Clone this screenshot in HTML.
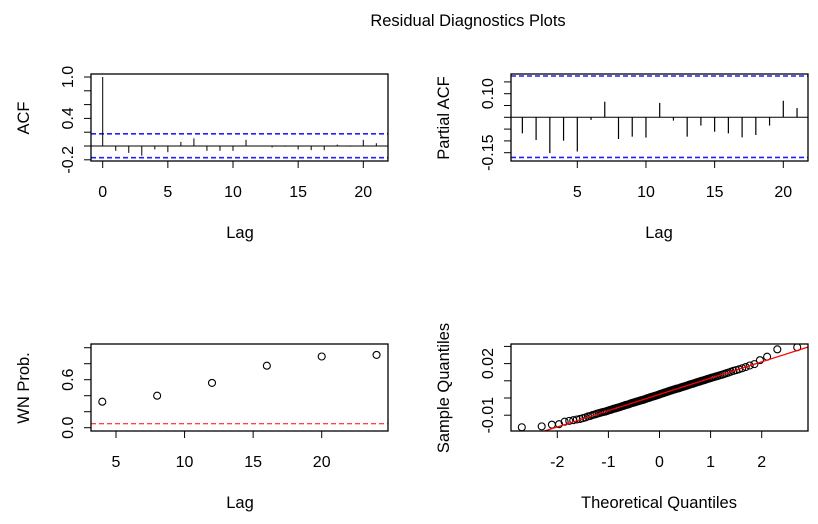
<!DOCTYPE html>
<html><head><meta charset="utf-8">
<style>
html,body{margin:0;padding:0;background:#fff;}
svg{display:block;font-family:"Liberation Sans",Arial,sans-serif;}
</style></head>
<body>
<svg id="c" width="818" height="524" viewBox="0 0 818 524">
<text x="468" y="26" font-size="16.5" text-anchor="middle">Residual Diagnostics Plots</text>
</svg>
<script>
// ---- data ----
const acfLags = [0,1,2,3,4,5,6,7,8,9,10,11,12,13,14,15,16,17,18,19,20,21];
const acfValues = [1,-0.07,-0.1,-0.14,-0.05,-0.09,0.06,0.11,-0.07,-0.07,-0.07,0.09,0.0,-0.02,-0.01,-0.05,-0.06,-0.06,0.02,-0.01,0.09,0.04];
const acfBounds = [0.176,-0.17];
const acfTicks = [-0.2,0,0.2,0.4,0.6,0.8,1.0];
const acfTickLabels = ["-0.2","","","0.4","","","1.0"];
const pacfLags = [1,2,3,4,5,6,7,8,9,10,11,12,13,14,15,16,17,18,19,20,21];
const pacfValues = [-0.068,-0.096,-0.152,-0.099,-0.145,-0.011,0.066,-0.092,-0.082,-0.086,0.061,-0.014,-0.082,-0.035,-0.061,-0.068,-0.085,-0.075,-0.035,0.07,0.039];
const pacfBounds = [0.175,-0.17];
const pacfTicks = [-0.15,-0.1,-0.05,0,0.05,0.1,0.15];
const pacfTickLabels = ["-0.15","","","","","0.10",""];
const lagTicks = [0,5,10,15,20];
const wnLags = [4,8,12,16,20,24];
const wnProb = [0.325,0.40,0.56,0.775,0.89,0.91];
const wnThreshold = [0.05];
const wnTicks = [0,0.2,0.4,0.6,0.8,1.0];
const wnTickLabels = ["0.0","","","0.6","",""];
const wnXTicks = [5,10,15,20];
const sampleQuantiles = [-0.0170,-0.0165,-0.0155,-0.0152,-0.0138,-0.0133,-0.0129,-0.0125,-0.0122,-0.0117,
-0.0113,-0.0107,-0.0104,-0.0099,-0.0096,-0.0092,-0.0089,-0.0086,-0.0083,-0.0081,
-0.0079,-0.0076,-0.0073,-0.0070,-0.0068,-0.0065,-0.0062,-0.0061,-0.0058,-0.0056,
-0.0054,-0.0052,-0.0049,-0.0047,-0.0045,-0.0042,-0.0040,-0.0039,-0.0037,-0.0035,
-0.0032,-0.0030,-0.0028,-0.0027,-0.0025,-0.0023,-0.0021,-0.0020,-0.0018,-0.0016,
-0.0014,-0.0013,-0.0012,-0.0010,-0.0008,-0.0006,-0.0004,-0.0002,0.0000,0.0001,
0.0003,0.0005,0.0007,0.0008,0.0010,0.0011,0.0013,0.0015,0.0016,0.0018,0.0020,
0.0022,0.0024,0.0026,0.0027,0.0029,0.0031,0.0033,0.0034,0.0036,0.0038,
0.0040,0.0042,0.0043,0.0045,0.0047,0.0049,0.0050,0.0052,0.0054,0.0055,
0.0056,0.0058,0.0060,0.0062,0.0064,0.0066,0.0067,0.0069,0.0071,0.0073,
0.0075,0.0078,0.0080,0.0081,0.0083,0.0085,0.0088,0.0090,0.0092,0.0094,
0.0096,0.0099,0.0101,0.0103,0.0105,0.0108,0.0111,0.0113,0.0116,0.0119,
0.0121,0.0124,0.0127,0.0130,0.0133,0.0136,0.0140,0.0144,0.0148,0.0153,
0.0158,0.0162,0.0167,0.0173,0.0180,0.0189,0.0197,0.0220,0.0240,0.0283,0.0295];
const qqLine = [0.0021,0.00946]; // intercept, slope
const qqYTicks = [-0.01,0,0.01,0.02,0.03];
const qqYTickLabels = ["-0.01","","","0.02",""];
const qqXTicks = [-2,-1,0,1,2];

// ---- helpers ----
const svg = document.getElementById('c');
const NS = 'http://www.w3.org/2000/svg';
function mk(tag, attrs, parent){
  const e = document.createElementNS(NS, tag);
  for (const k in attrs) e.setAttribute(k, attrs[k]);
  (parent||svg).appendChild(e);
  return e;
}
function lin(d0,d1,r0,r1){ return v => r0 + (v-d0)*(r1-r0)/(d1-d0); }
function qnorm(p){
  const a=[-39.6968302866538,220.946098424521,-275.928510446969,138.357751867269,-30.6647980661472,2.50662827745924];
  const b=[-54.4760987982241,161.585836858041,-155.698979859887,66.8013118877197,-13.2806815528857];
  const c=[-0.00778489400243029,-0.322396458041136,-2.40075827716184,-2.54973253934373,4.37466414146497,2.93816398269878];
  const d=[0.00778469570904146,0.32246712907004,2.445134137143,3.75440866190742];
  const pl=0.02425; let q,r;
  if(p<pl){q=Math.sqrt(-2*Math.log(p));return (((((c[0]*q+c[1])*q+c[2])*q+c[3])*q+c[4])*q+c[5])/((((d[0]*q+d[1])*q+d[2])*q+d[3])*q+1);}
  if(p>1-pl){q=Math.sqrt(-2*Math.log(1-p));return -(((((c[0]*q+c[1])*q+c[2])*q+c[3])*q+c[4])*q+c[5])/((((d[0]*q+d[1])*q+d[2])*q+d[3])*q+1);}
  q=p-0.5; r=q*q;
  return (((((a[0]*r+a[1])*r+a[2])*r+a[3])*r+a[4])*r+a[5])*q/(((((b[0]*r+b[1])*r+b[2])*r+b[3])*r+b[4])*r+1);
}
function frame(g, x0,y0,x1,y1, name){
  const r = mk('rect',{x:x0,y:y0,width:x1-x0,height:y1-y0,fill:'none',stroke:'#000','stroke-width':1.3},g);
  
  
}
function yAxis(g, x0, ticks, labels, sy, name){
  const ga = mk('g',{},g);
  
  
  mk('line',{x1:x0,x2:x0,y1:sy(ticks[0]),y2:sy(ticks[ticks.length-1]),stroke:'#000','stroke-width':1},ga);
  ticks.forEach((t,i)=>{
    const y = sy(t);
    mk('line',{x1:x0-7,x2:x0,y1:y,y2:y,stroke:'#000','stroke-width':1},ga);
    if(labels[i]){
      const tx = mk('text',{x:0,y:0,'font-size':16,'text-anchor':'middle',transform:`translate(${x0-18},${y}) rotate(-90)`},ga);
      tx.textContent = labels[i];
      
      
    }
  });
}
function xAxis(g, y0, ticks, labels, sx, name){
  const ga = mk('g',{},g);
  
  
  mk('line',{x1:sx(ticks[0]),x2:sx(ticks[ticks.length-1]),y1:y0,y2:y0,stroke:'#000','stroke-width':1},ga);
  ticks.forEach((t,i)=>{
    const x = sx(t);
    mk('line',{x1:x,x2:x,y1:y0,y2:y0+7,stroke:'#000','stroke-width':1},ga);
    const tx = mk('text',{x:x,y:y0+36,'font-size':16,'text-anchor':'middle'},ga);
    tx.textContent = labels[i];
    
    
  });
}
function label(g, txt, x, y, rot, name){
  const t = mk('text',{x:0,y:0,'font-size':16.5,'text-anchor':'middle',transform:`translate(${x},${y})${rot?' rotate(-90)':''}`},g);
  t.textContent = txt;
  
  
}

// ---- ACF panel ----
(function(){
  const g = mk('g',{});
  
  
  const X0=91,X1=388,Y0=74,Y1=161;
  const sx = lin(0,20,102.7,363.3), sy = lin(0,1,146,77);
  mk('line',{x1:X0,x2:X1,y1:sy(0),y2:sy(0),stroke:'#000','stroke-width':1},g);
  acfBounds.forEach(b=>{
    const l = mk('line',{x1:X0,x2:X1,y1:sy(b),y2:sy(b),stroke:'#2020ff','stroke-width':1.6,'stroke-dasharray':'5,3'},g);
    
    
  });
  acfLags.forEach((k,i)=>{
    const l = mk('line',{x1:sx(k),x2:sx(k),y1:sy(0),y2:sy(acfValues[i]),stroke:'#000','stroke-width':1},g);
    
    
  });
  frame(g,X0,Y0,X1,Y1,'acf-plot-frame');
  yAxis(g,X0,acfTicks,acfTickLabels,sy,'acf-y-axis');
  xAxis(g,Y1,lagTicks,lagTicks.map(String),sx,'acf-x-axis');
  label(g,'ACF',29,118,true,'acf-y-axis-title');
  label(g,'Lag',240,238,false,'acf-x-axis-title');
})();

// ---- PACF panel ----
(function(){
  const g = mk('g',{});
  
  
  const X0=511,X1=808,Y0=74,Y1=161;
  const sx = lin(5,20,577.3,783.3), sy = lin(0,0.05,117.3,105.5);
  mk('line',{x1:X0,x2:X1,y1:sy(0),y2:sy(0),stroke:'#000','stroke-width':1},g);
  pacfBounds.forEach(b=>{
    const l = mk('line',{x1:X0,x2:X1,y1:sy(b),y2:sy(b),stroke:'#2020ff','stroke-width':1.6,'stroke-dasharray':'5,3'},g);
    
    
  });
  pacfLags.forEach((k,i)=>{
    const l = mk('line',{x1:sx(k),x2:sx(k),y1:sy(0),y2:sy(pacfValues[i]),stroke:'#000','stroke-width':1.2},g);
    
    
  });
  frame(g,X0,Y0,X1,Y1,'pacf-plot-frame');
  yAxis(g,X0,pacfTicks,pacfTickLabels,sy,'pacf-y-axis');
  xAxis(g,Y1,[5,10,15,20],['5','10','15','20'],sx,'pacf-x-axis');
  label(g,'Partial ACF',449,118,true,'pacf-y-axis-title');
  label(g,'Lag',659,238,false,'pacf-x-axis-title');
})();

// ---- WN probability panel ----
(function(){
  const g = mk('g',{});
  
  
  const X0=91,X1=388,Y0=344,Y1=431;
  const sx = lin(5,20,116,321.7), sy = lin(0,1,427.7,347.7);
  wnThreshold.forEach(t=>{
    const l = mk('line',{x1:X0,x2:X1,y1:sy(t),y2:sy(t),stroke:'#ff0000','stroke-width':1,'stroke-dasharray':'5,3'},g);
    
    
  });
  wnLags.forEach((k,i)=>{
    const c = mk('circle',{cx:sx(k),cy:sy(wnProb[i]),r:3.5,fill:'none',stroke:'#000','stroke-width':1.1},g);
    
    
  });
  frame(g,X0,Y0,X1,Y1,'wn-plot-frame');
  yAxis(g,X0,wnTicks,wnTickLabels,sy,'wn-y-axis');
  xAxis(g,Y1,wnXTicks,wnXTicks.map(String),sx,'wn-x-axis');
  label(g,'WN Prob.',29,388,true,'wn-y-axis-title');
  label(g,'Lag',240,508,false,'wn-x-axis-title');
})();

// ---- Normal QQ panel ----
(function(){
  const g = mk('g',{});
  
  
  const X0=511,X1=808,Y0=344,Y1=431;
  const sx = lin(0,1,659.5,710.6), sy = lin(0,0.01,398,380.8);
  const n = sampleQuantiles.length;
  const cp = mk('clipPath',{id:'qqclip'},g);
  mk('rect',{x:X0,y:Y0,width:X1-X0,height:Y1-Y0},cp);
  const pg = mk('g',{'clip-path':'url(#qqclip)'},g);
  sampleQuantiles.forEach((v,i)=>{
    const q = qnorm((i+0.5)/n);
    const c = mk('circle',{cx:sx(q),cy:sy(v),r:3.5,fill:'none',stroke:'#000','stroke-width':1.1},pg);
    
    
  });
  const xa=-3.5, xb=3.5;
  const l = mk('line',{x1:sx(xa),y1:sy(qqLine[0]+qqLine[1]*xa),x2:sx(xb),y2:sy(qqLine[0]+qqLine[1]*xb),stroke:'#ff0000','stroke-width':1.3},pg);
  
  
  frame(g,X0,Y0,X1,Y1,'qq-plot-frame');
  yAxis(g,X0,qqYTicks,qqYTickLabels,sy,'qq-y-axis');
  xAxis(g,Y1,qqXTicks,qqXTicks.map(String),sx,'qq-x-axis');
  label(g,'Sample Quantiles',449,388,true,'qq-y-axis-title');
  label(g,'Theoretical Quantiles',659,508,false,'qq-x-axis-title');
})();
</script>
</body></html>
